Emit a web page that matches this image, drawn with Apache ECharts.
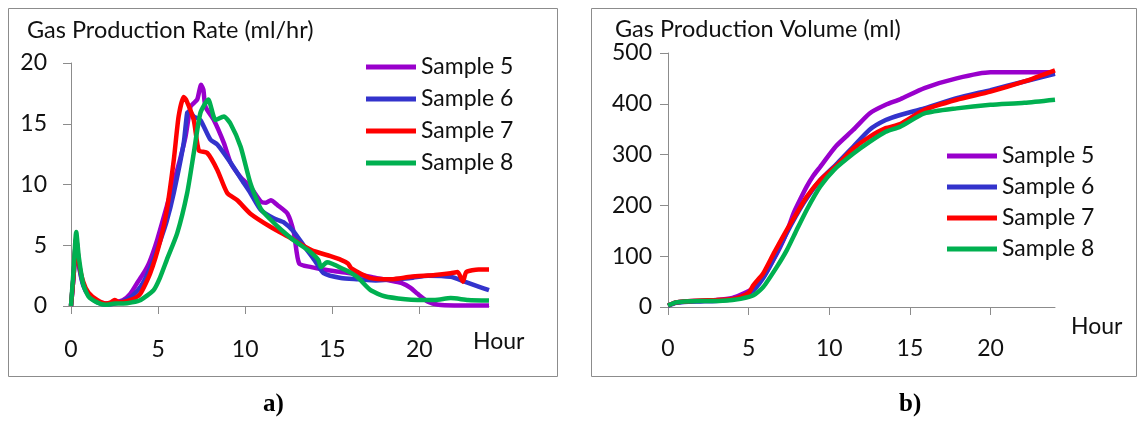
<!DOCTYPE html>
<html>
<head>
<meta charset="utf-8">
<script src="https://cdn.jsdelivr.net/npm/echarts@6/dist/echarts.min.js"></script>
<style>
html,body{margin:0;padding:0;background:#fff;}
#c{width:1139px;height:422px;}
</style>
</head>
<body>
<div id="c"></div>
<script>
// ---- Data ----
const seriesNames = ['Sample 5', 'Sample 6', 'Sample 7', 'Sample 8'];
const xTicks = [0, 5, 10, 15, 20];
const rateTicks = [0, 5, 10, 15, 20];
const volumeTicks = [0, 100, 200, 300, 400, 500];

// Gas production rate (ml/hr) : [hour, value]
const rate5 = [[0,0],[0.15,2.5],[0.3,5.6],[0.45,3.5],[0.7,1.8],[1,1.0],[1.5,0.4],[2,0.2],[2.5,0.3],[3,0.5],[3.4,1.0],[3.8,1.9],[4.17,2.7],[4.5,3.6],[4.94,5.4],[5.5,8.2],[6.1,11.2],[6.57,13.9],[6.86,16.4],[7.05,16.7],[7.25,17.0],[7.47,18.2],[7.6,17.8],[7.72,16.4],[8.2,15.3],[8.78,13.4],[9.16,11.8],[9.74,10.6],[10.3,9.8],[10.9,8.6],[11.2,8.5],[11.47,8.7],[11.86,8.3],[12.43,7.6],[12.8,6.0],[13.1,3.5],[13.8,3.2],[14.5,3.0],[15.5,2.8],[16.5,2.6],[17.5,2.3],[18.3,2.1],[18.96,1.9],[19.5,1.5],[19.9,1.0],[20.5,0.35],[21.1,0.1],[22,0.05],[24,0.05]];
const rate6 = [[0,0],[0.15,2.5],[0.3,5.5],[0.45,3.4],[0.7,1.7],[1,0.9],[1.5,0.3],[2,0.1],[2.5,0.2],[3,0.4],[3.5,0.8],[4,1.6],[4.5,3.0],[5.13,5.4],[5.5,7.0],[5.9,9.3],[6.47,13.4],[6.67,15.9],[6.8,16.0],[7.05,15.6],[7.43,15.3],[8.0,13.7],[8.4,13.3],[9.16,11.8],[9.93,10.1],[10.3,9.3],[10.9,7.9],[11.66,7.2],[12.2,6.9],[12.8,6.1],[13.4,4.9],[13.97,3.8],[14.5,2.7],[15.5,2.3],[16.5,2.2],[17.5,2.1],[18.5,2.2],[19.5,2.3],[20.5,2.5],[21.8,2.4],[22.6,2.0],[23.4,1.6],[24,1.3]];
const rate7 = [[0,0],[0.15,2.5],[0.3,5.5],[0.45,3.6],[0.7,2.0],[1,1.1],[1.5,0.5],[2,0.2],[2.3,0.3],[2.5,0.5],[2.8,0.3],[3.2,0.4],[3.6,0.6],[3.98,1.0],[4.55,2.7],[5.13,5.4],[5.5,7.9],[5.9,12.0],[6.18,15.6],[6.47,17.2],[6.6,17.0],[7.05,15.3],[7.34,12.8],[7.82,12.6],[8.4,11.2],[8.97,9.3],[9.55,8.7],[10.3,7.6],[11.47,6.5],[12.6,5.6],[13.8,4.6],[14.9,4.1],[15.5,3.8],[15.9,3.5],[16.1,3.1],[17.2,2.3],[18.4,2.2],[19.5,2.4],[20.9,2.55],[21.8,2.7],[22.2,2.8],[22.5,2.0],[22.7,2.8],[23.4,3.0],[24,3.0]];
const rate8 = [[0,0],[0.15,3.0],[0.3,6.1],[0.45,4.0],[0.7,1.8],[1,0.8],[1.5,0.3],[2,0.1],[2.5,0.2],[3,0.2],[3.5,0.3],[4,0.5],[4.74,1.3],[5.1,2.3],[5.5,3.8],[6.1,6.0],[6.67,9.3],[7.05,12.6],[7.43,15.9],[7.88,17.0],[8.3,15.3],[8.78,15.6],[9.16,15.0],[9.74,13.1],[10.3,10.1],[10.9,8.0],[11.47,7.1],[12.05,6.3],[12.8,5.4],[13.6,4.6],[14.2,3.8],[14.35,3.2],[14.7,3.6],[15.7,3.0],[16.1,2.7],[16.5,2.3],[17.2,1.3],[18.0,0.8],[19.2,0.55],[19.9,0.5],[20.9,0.5],[21.8,0.65],[22.8,0.5],[24,0.45]];

// Gas production volume (ml) : [hour, value]
const vol5 = [[0,3],[0.5,9],[1,11],[2,12],[3,14],[4,18],[4.5,24],[5.1,33],[5.5,44],[5.9,59],[6.4,85],[6.96,118],[7.4,150],[7.78,184],[8.2,212],[8.6,237],[9.0,258],[9.44,276],[10.4,316],[11.5,349],[12.5,381],[13.5,398],[14.4,409],[15.9,431],[17.9,450],[20,462],[24,462]];
const vol6 = [[0,2],[0.5,8],[1,10],[2,11],[3,12],[4,15],[4.5,19],[5.3,33],[5.8,52],[6.3,79],[7.35,145],[8.4,204],[9.44,250],[10.5,283],[11.5,316],[12.5,349],[13.5,368],[14.4,378],[15.9,391],[17.9,411],[20,427],[22.1,444],[24,459]];
const vol7 = [[0,3],[0.5,9],[1,11],[2,13],[3,14],[4,16],[4.5,20],[5,28],[5.3,43],[5.9,66],[6.55,105],[7.35,151],[7.97,184],[8.6,217],[9.44,250],[10.5,280],[11.5,312],[12.5,335],[13.5,352],[14.4,360],[15.9,388],[17.9,408],[20,424],[22.1,444],[24,466]];
const vol8 = [[0,3],[0.5,9],[1,11],[2,12],[3,12],[4,14],[4.5,16],[5.3,23],[5.9,39],[6.75,79],[7.37,112],[7.97,151],[8.6,191],[9.44,237],[10.3,270],[11.5,302],[12.5,325],[13.5,345],[14.4,355],[15.9,381],[17.9,391],[20,398],[22.1,402],[24,408]];

const colors = ['#9900CC', '#3333CC', '#FF0000', '#00B050'];
const FONT = 'Lato';
const FS = 23;

const rateData = [rate5, rate6, rate7, rate8];
const volData = [vol5, vol6, vol7, vol8];

function xAxisDef(gridIndex, labelMargin) {
  return {
    type: 'value', gridIndex: gridIndex, min: 0, max: 24,
    axisLine: {show: true, lineStyle: {color: '#8c8c8c', width: 1}},
    axisTick: {show: true, length: 8, customValues: xTicks, lineStyle: {color: '#8c8c8c'}},
    axisLabel: {customValues: xTicks, margin: labelMargin, color: '#111', fontFamily: FONT, fontSize: FS},
    splitLine: {show: false}
  };
}
function yAxisDef(gridIndex, max, interval, ticks, labelMargin) {
  return {
    type: 'value', gridIndex: gridIndex, min: 0, max: max, interval: interval,
    axisLine: {show: true, lineStyle: {color: '#8c8c8c', width: 1}},
    axisTick: {show: true, length: 8, lineStyle: {color: '#8c8c8c'}},
    axisLabel: {customValues: ticks, margin: labelMargin, color: '#111', fontFamily: FONT, fontSize: FS},
    splitLine: {show: false}
  };
}

const series = [];
seriesNames.forEach((n, i) => {
  series.push({name: n, type: 'line', xAxisIndex: 0, yAxisIndex: 0, data: rateData[i], smooth: 0.2,
    showSymbol: false, symbol: 'none', lineStyle: {width: 4.5, color: colors[i]}, itemStyle: {color: colors[i]}, animation: false});
});
seriesNames.forEach((n, i) => {
  series.push({name: n, type: 'line', xAxisIndex: 1, yAxisIndex: 1, data: volData[i], smooth: 0.2,
    showSymbol: false, symbol: 'none', lineStyle: {width: 4.5, color: colors[i]}, itemStyle: {color: colors[i]}, animation: false});
});

const legendCommon = {
  orient: 'vertical', data: seriesNames, icon: 'rect', itemWidth: 50, itemHeight: 5, padding: 0,
  textStyle: {fontFamily: FONT, fontSize: FS, color: '#111', lineHeight: 24, padding: [0,0,0,0]},
  selectedMode: false
};

const option = {
  backgroundColor: '#fff',
  animation: false,
  title: [
    {text: 'Gas Production Rate (ml/hr)', left: 22, top: 13, padding: 5, textStyle: {fontFamily: FONT, fontSize: 23.5, fontWeight: 'normal', color: '#111'}},
    {text: 'Gas Production Volume (ml)', left: 610, top: 12, padding: 5, textStyle: {fontFamily: FONT, fontSize: 23.5, fontWeight: 'normal', color: '#111'}}
  ],
  legend: [
    Object.assign({left: 366, top: 55, itemGap: 8}, legendCommon),
    Object.assign({left: 947, top: 144, itemGap: 7}, legendCommon)
  ],
  grid: [
    {left: 71, top: 63, right: 650, bottom: 116, containLabel: false},
    {left: 668, top: 53, right: 84, bottom: 115, containLabel: false}
  ],
  xAxis: [xAxisDef(0, 32), xAxisDef(1, 30)],
  yAxis: [yAxisDef(0, 20, 5, rateTicks, 24), yAxisDef(1, 500, 100, volumeTicks, 16)],
  series: series,
  graphic: [
    {type: 'rect', shape: {x: 8.5, y: 8.5, width: 549, height: 368}, style: {fill: 'none', stroke: '#8c8c8c', lineWidth: 1}, silent: true},
    {type: 'rect', shape: {x: 591.5, y: 8.5, width: 545, height: 368}, style: {fill: 'none', stroke: '#8c8c8c', lineWidth: 1}, silent: true},
    {type: 'text', left: 473, top: 330, style: {text: 'Hour', font: FS + 'px ' + FONT, fill: '#111'}},
    {type: 'text', left: 1071, top: 315, style: {text: 'Hour', font: FS + 'px ' + FONT, fill: '#111'}},
    {type: 'text', left: 263, top: 392, style: {text: 'a)', font: 'bold 25px "Liberation Serif"', fill: '#000'}},
    {type: 'text', left: 899, top: 392, style: {text: 'b)', font: 'bold 25px "Liberation Serif"', fill: '#000'}}
  ]
};

const chart = echarts.init(document.getElementById('c'), null, {renderer: 'canvas'});
chart.setOption(option);
</script>
</body>
</html>
